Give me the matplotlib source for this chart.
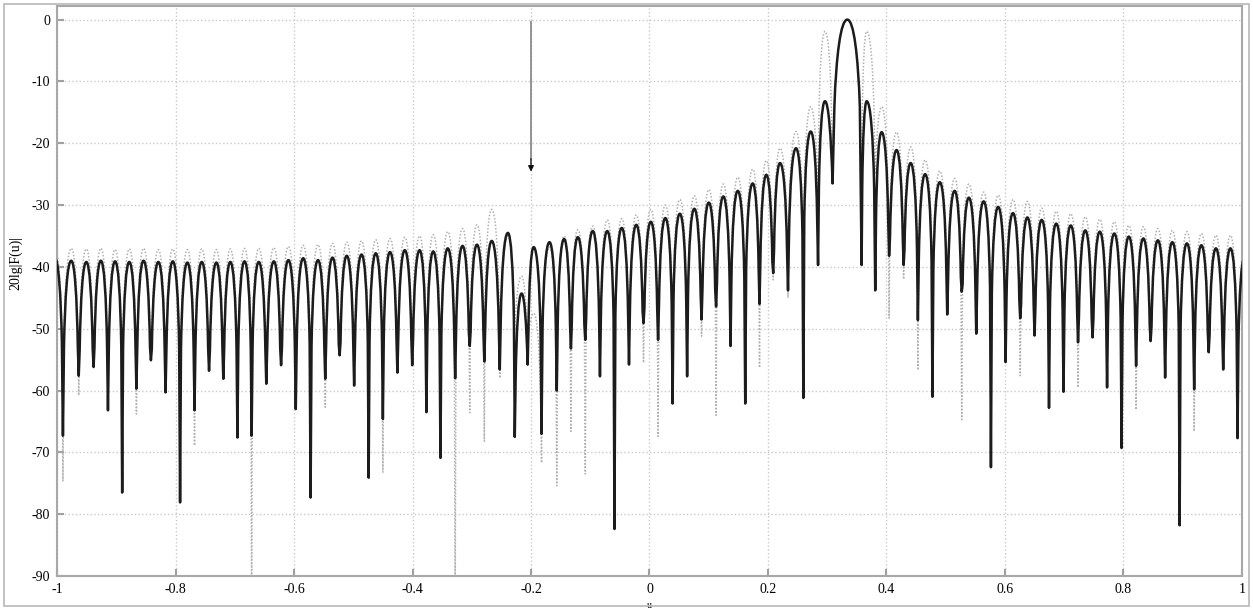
import matplotlib
matplotlib.use('Agg')
import matplotlib.pyplot as plt
from matplotlib.path import Path
from matplotlib.patches import PathPatch, Rectangle

plt.rcParams['font.family'] = ['Liberation Serif', 'DejaVu Serif']
plt.rcParams['axes.unicode_minus'] = False

# lobe tops (u), shared by both patterns
u_peak = [-1.0040, -0.9760, -0.9505, -0.9260, -0.9020, -0.8780, -0.8540, -0.8290,
          -0.8046, -0.7800, -0.7557, -0.7310, -0.7075, -0.6835, -0.6595, -0.6340,
          -0.6095, -0.5845, -0.5595, -0.5350, -0.5110, -0.4860, -0.4620, -0.4380,
          -0.4130, -0.3880, -0.3650, -0.3405, -0.3155, -0.2912, -0.2663, -0.2390,
          -0.2158, -0.1955, -0.1688, -0.1441, -0.1210, -0.0958, -0.0713, -0.0468,
          -0.0223, 0.0022, 0.0267, 0.0512, 0.0757, 0.1001, 0.1246, 0.1490,
          0.1742, 0.1972, 0.2203, 0.2473, 0.2721, 0.2962, 0.3339, 0.3666,
          0.3918, 0.4170, 0.4408, 0.4652, 0.4900, 0.5150, 0.5390, 0.5640,
          0.5885, 0.6135, 0.6378, 0.6620, 0.6865, 0.7110, 0.7355, 0.7600,
          0.7845, 0.8090, 0.8335, 0.8580, 0.8825, 0.9070, 0.9315, 0.9560,
          0.9805, 1.0045]

# 20lg|F(u)| at the lobe tops, black = with null at u=-0.2
black_peak = [-38.5, -39.0, -39.2, -39.0, -39.1, -39.2, -39.0, -39.2, -39.1, -39.3,
              -39.2, -39.3, -39.2, -39.1, -39.2, -39.1, -38.9, -38.6, -38.9, -38.5,
              -38.2, -38.0, -37.8, -37.6, -37.3, -37.3, -37.5, -37.0, -36.6, -36.4,
              -35.8, -34.5, -44.3, -36.8, -36.0, -35.5, -35.2, -34.2, -34.2, -33.7,
              -33.2, -32.7, -32.1, -31.4, -30.6, -29.6, -28.6, -27.7, -26.5, -25.1,
              -23.2, -20.8, -18.1, -13.2, 0.0, -13.2, -18.2, -21.1, -23.2, -25.0,
              -26.3, -27.7, -28.8, -29.4, -30.3, -31.3, -32.0, -32.4, -33.0, -33.3,
              -34.1, -34.3, -34.6, -35.1, -35.4, -35.7, -36.0, -36.2, -36.5, -37.0,
              -37.0, -38.5]
gray_peak = [-37.0, -37.0, -37.1, -37.0, -37.2, -37.1, -37.0, -37.2, -37.1, -37.2,
             -37.1, -37.2, -37.1, -37.0, -37.0, -36.9, -36.7, -36.5, -36.4, -36.2,
             -36.0, -35.8, -35.6, -35.4, -35.2, -35.0, -34.8, -34.3, -33.8, -33.2,
             -30.7, -35.0, -41.5, -47.5, -36.8, -35.0, -34.0, -33.4, -32.4, -32.2,
             -31.6, -30.7, -30.0, -29.1, -28.5, -27.5, -26.6, -25.5, -24.2, -22.8,
             -20.8, -18.1, -14.1, -1.9, 0.0, -1.9, -14.1, -18.2, -20.6, -22.7,
             -24.5, -25.7, -26.6, -27.9, -28.4, -29.1, -29.4, -30.5, -31.0, -31.4,
             -31.9, -32.3, -32.7, -33.3, -33.5, -33.8, -34.1, -34.3, -34.6, -34.9,
             -34.9, -37.0]

# nulls between neighbouring lobes
u_null = [-0.9900, -0.9633, -0.9383, -0.9140, -0.8900, -0.8660, -0.8415, -0.8168,
          -0.7923, -0.7679, -0.7434, -0.7193, -0.6955, -0.6715, -0.6468, -0.6218,
          -0.5970, -0.5720, -0.5473, -0.5230, -0.4985, -0.4740, -0.4500, -0.4255,
          -0.4005, -0.3765, -0.3528, -0.3280, -0.3034, -0.2788, -0.2527, -0.2274,
          -0.2057, -0.1822, -0.1565, -0.1326, -0.1084, -0.0836, -0.0591, -0.0346,
          -0.0101, 0.0145, 0.0390, 0.0635, 0.0879, 0.1124, 0.1368, 0.1616,
          0.1857, 0.2088, 0.2338, 0.2597, 0.2845, 0.3090, 0.3580, 0.3810,
          0.4044, 0.4289, 0.4530, 0.4776, 0.5025, 0.5270, 0.5515, 0.5763,
          0.6010, 0.6257, 0.6499, 0.6743, 0.6988, 0.7233, 0.7478, 0.7723,
          0.7968, 0.8213, 0.8458, 0.8703, 0.8948, 0.9193, 0.9438, 0.9683,
          0.9925]
black_null = [-67.3, -57.6, -56.2, -63.2, -76.5, -59.7, -55.1, -60.3, -78.1, -63.2,
              -56.8, -58.1, -67.6, -67.3, -58.9, -55.9, -63.0, -77.3, -58.1, -54.3,
              -59.2, -74.1, -64.6, -57.1, -55.9, -63.5, -70.9, -58.0, -52.8, -55.3,
              -56.6, -67.5, -55.8, -67.0, -60.0, -53.2, -51.8, -57.7, -82.4, -55.8,
              -49.1, -51.8, -62.1, -57.7, -48.5, -46.4, -52.8, -62.1, -46.0, -41.0,
              -43.8, -61.2, -39.7, -26.5, -39.7, -43.8, -38.2, -39.7, -48.6, -61.0,
              -47.7, -44.0, -50.8, -72.4, -55.4, -48.3, -51.1, -62.8, -60.2, -52.2,
              -51.4, -59.5, -69.3, -56.0, -52.0, -57.9, -81.8, -59.8, -53.8, -56.6,
              -67.7]
gray_null = [-74.6, -60.8, -53.0, -56.0, -58.0, -63.8, -52.0, -57.0, -66.0, -68.9,
             -53.0, -55.0, -60.0, -95.0, -55.0, -53.0, -58.0, -62.0, -62.7, -52.0,
             -56.0, -64.0, -73.2, -54.0, -53.0, -58.0, -62.0, -95.0, -63.6, -68.2,
             -58.0, -50.0, -53.0, -71.7, -75.4, -66.6, -73.5, -55.0, -60.0, -53.0,
             -55.5, -67.4, -56.0, -54.0, -51.2, -64.0, -50.0, -57.0, -56.3, -42.1,
             -45.0, -50.0, -28.0, -20.0, -28.0, -25.0, -48.3, -42.0, -56.7, -52.0,
             -45.0, -64.7, -48.0, -60.0, -50.0, -57.6, -48.0, -55.0, -55.0, -59.5,
             -48.0, -55.0, -60.0, -63.1, -49.0, -54.0, -65.0, -66.6, -52.0, -54.0,
             -60.0]

null_dir = -0.2            # direction of the imposed null
arrow_from, arrow_to = -0.3, -24.6
head_from = -22.5

x_ticks = [-1, -0.8, -0.6, -0.4, -0.2, 0, 0.2, 0.4, 0.6, 0.8, 1]
y_ticks = [0, -10, -20, -30, -40, -50, -60, -70, -80, -90]


def side(xp, yp, xn, yn):
    # bezier pieces from a lobe top down towards its null
    h = xn - xp
    drop = yp - yn
    c1 = (xn - 0.55 * h, yp)
    if drop > 14:
        c2 = (xn - 0.245 * h, yp - 5.8)
        s = (xn - 0.125 * h, yp - 14)
    else:
        c2 = (xn - 0.2 * h, yp - 0.41 * drop)
        s = (xn, yn)
    return c1, c2, s


def pattern_path(u_pk, db_pk, u_nl, db_nl):
    verts = [(u_pk[0], db_pk[0])]
    codes = [Path.MOVETO]
    for i in range(len(u_nl)):
        xn, yn = u_nl[i], db_nl[i]
        c1, c2, s = side(u_pk[i], db_pk[i], xn, yn)
        verts += [c1, c2, s, (xn, yn)]
        codes += [Path.CURVE4] * 3 + [Path.LINETO]
        c1, c2, s = side(u_pk[i + 1], db_pk[i + 1], xn, yn)
        verts += [s, c2, c1, (u_pk[i + 1], db_pk[i + 1])]
        codes += [Path.LINETO] + [Path.CURVE4] * 3
    return Path(verts, codes)


fig = plt.figure(figsize=(12.53, 6.08), dpi=100)
ax = fig.add_axes([0.0455, 0.0526, 0.9457, 0.9375])

ax.add_patch(PathPatch(pattern_path(u_peak, gray_peak, u_null, gray_null),
                       fill=False, ec='#b0b0b0', lw=1.1, ls=(0, (1, 1.2)),
                       joinstyle='round', zorder=3))
ax.add_patch(PathPatch(pattern_path(u_peak, black_peak, u_null, black_null),
                       fill=False, ec='#1c1c1c', lw=1.8, joinstyle='round',
                       zorder=4))

# arrow pointing at the nulled direction: grey shaft, small black head
ax.annotate('', xy=(null_dir, head_from), xytext=(null_dir, arrow_from),
            arrowprops=dict(arrowstyle='-', color='#8c8c8c', lw=1.3,
                            shrinkA=0, shrinkB=0), zorder=5)
ax.annotate('', xy=(null_dir, arrow_to), xytext=(null_dir, head_from),
            arrowprops=dict(arrowstyle='-|>', color='#111111', lw=1.0,
                            mutation_scale=8, shrinkA=0, shrinkB=0), zorder=5)

ax.set_xlim(-1, 1)
ax.set_ylim(-90, 2.2)
ax.set_xticks(x_ticks)
ax.set_xticklabels([f'{t:g}' for t in x_ticks])
ax.set_yticks(y_ticks)
ax.set_yticklabels([f'{t:g}' for t in y_ticks])
ax.grid(True, color='#cacaca', ls=':', lw=1.0)
ax.tick_params(direction='in', color='#a0a0a0', length=5, width=1.5,
               labelsize=10, pad=5)
for sp in ax.spines.values():
    sp.set_color('#a8a8a8')
    sp.set_linewidth(1.5)

ax.set_ylabel('20lg|F(u)|', fontsize=10)
ax.yaxis.set_label_coords(-0.029, 0.55)
ax.set_xlabel('u', fontsize=7)
ax.xaxis.set_label_coords(0.5, -0.043)

fig.add_artist(Rectangle((0.003, 0.003), 0.994, 0.991, transform=fig.transFigure,
                         fill=False, ec='#b8b8b8', lw=1.2))

plt.savefig('out.png', dpi=100)
